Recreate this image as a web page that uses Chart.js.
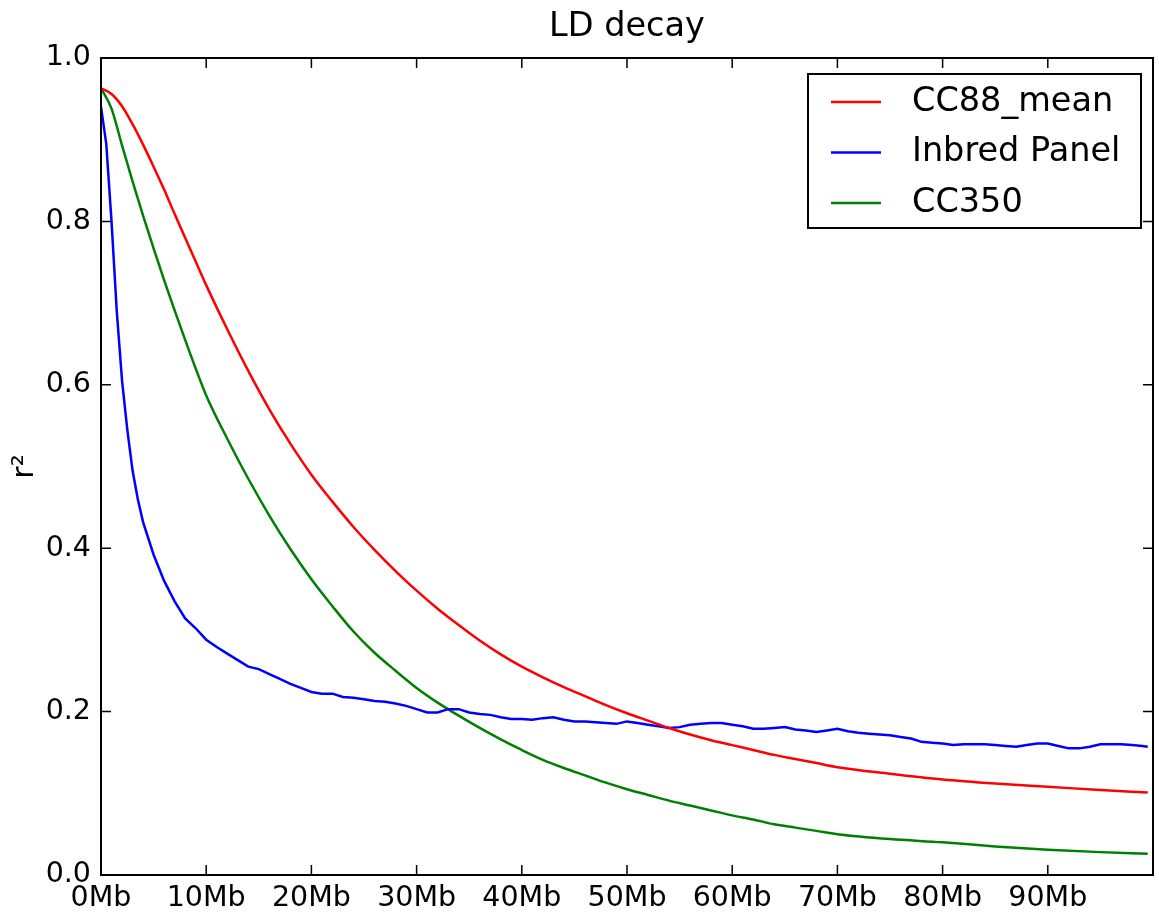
<!DOCTYPE html>
<html>
<head>
<meta charset="utf-8">
<script src="https://cdn.jsdelivr.net/npm/chart.js@4.4.1/dist/chart.umd.min.js"></script>
<style>
  html, body { margin: 0; padding: 0; background: #fff; }
  #wrap { width: 1159px; height: 919px; position: relative; }
</style>
</head>
<body>
<div id="wrap"><canvas id="ldChart"></canvas></div>
<script>
// LD decay data

const smoothX = [0, 1, 2, 3, 4, 5, 6, 7, 8, 9, 10, 12, 14, 16, 18, 20, 22, 24, 26, 28, 30, 32, 34, 36, 38, 40,
  42, 44, 46, 48, 50, 52, 54, 56, 58, 60, 62, 64, 66, 68, 70, 75, 80, 85, 90, 95, 99.5];

const cc88Mean = [0.963, 0.956, 0.941, 0.919, 0.894, 0.867, 0.839, 0.809, 0.780, 0.751, 0.722, 0.668, 0.617,
  0.570, 0.528, 0.490, 0.457, 0.426, 0.398, 0.372, 0.348, 0.326, 0.306, 0.287, 0.270, 0.255, 0.242, 0.230,
  0.219, 0.208, 0.198, 0.189, 0.180, 0.172, 0.165, 0.159, 0.153, 0.147, 0.142, 0.137, 0.132, 0.124, 0.117,
  0.112, 0.108, 0.104, 0.101];

const cc350 = [0.963, 0.938, 0.893, 0.849, 0.807, 0.767, 0.728, 0.691, 0.655, 0.620, 0.587, 0.534, 0.485,
  0.440, 0.399, 0.362, 0.329, 0.298, 0.272, 0.250, 0.229, 0.211, 0.195, 0.180, 0.166, 0.153, 0.141, 0.131,
  0.122, 0.113, 0.105, 0.098, 0.091, 0.085, 0.079, 0.073, 0.068, 0.062, 0.058, 0.054, 0.050, 0.044, 0.040,
  0.035, 0.031, 0.028, 0.026];

const inbredX = [0, 0.5, 1, 1.5, 2, 2.5, 3, 3.5, 4, 5, 6, 7, 8, 9, 10, 11, 12, 13, 14, 15, 16, 17, 18, 19, 20,
  21, 22, 23, 24, 25, 26, 27, 28, 29, 30, 31, 32, 33, 34, 35, 36, 37, 38, 39, 40, 41, 42, 43, 44, 45, 46, 47,
  48, 49, 50, 51, 52, 53, 54, 55, 56, 57, 58, 59, 60, 61, 62, 63, 64, 65, 66, 67, 68, 69, 70, 71, 72, 73, 74,
  75, 76, 77, 78, 79, 80, 81, 82, 83, 84, 85, 86, 87, 88, 89, 90, 91, 92, 93, 94, 95, 96, 97, 98, 99, 99.5];

const inbredPanel = [0.940, 0.895, 0.800, 0.690, 0.605, 0.545, 0.495, 0.460, 0.432, 0.392, 0.360, 0.335,
  0.314, 0.302, 0.288, 0.279, 0.271, 0.263, 0.255, 0.252, 0.246, 0.240, 0.234, 0.229, 0.224, 0.222, 0.222,
  0.218, 0.217, 0.215, 0.213, 0.212, 0.210, 0.207, 0.203, 0.199, 0.199, 0.203, 0.203, 0.199, 0.197, 0.196,
  0.193, 0.191, 0.191, 0.190, 0.192, 0.193, 0.190, 0.188, 0.188, 0.187, 0.186, 0.185, 0.188, 0.186, 0.184,
  0.182, 0.180, 0.181, 0.184, 0.185, 0.186, 0.186, 0.184, 0.182, 0.179, 0.179, 0.180, 0.181, 0.178, 0.177,
  0.175, 0.177, 0.179, 0.176, 0.174, 0.173, 0.172, 0.171, 0.169, 0.167, 0.163, 0.162, 0.161, 0.159, 0.160,
  0.160, 0.160, 0.159, 0.158, 0.157, 0.159, 0.161, 0.161, 0.158, 0.155, 0.155, 0.157, 0.160, 0.160, 0.160,
  0.159, 0.158, 0.157];

const xTicks = [0, 10, 20, 30, 40, 50, 60, 70, 80, 90, 100];
const yTicks = [0, 0.2, 0.4, 0.6, 0.8, 1.0];

const FONT = "'DejaVu Sans', 'Liberation Sans', sans-serif";

function toPoints(xs, ys) {
  return xs.map((x, i) => ({ x: x, y: ys[i] }));
}

// matplotlib-style frame, inward ticks on all four sides, boxed legend
const frameAndLegend = {
  id: 'frameAndLegend',
  afterDraw(chart) {
    const ctx = chart.ctx;
    const area = chart.chartArea;
    const xs = chart.scales.x;
    const ys = chart.scales.y;
    const len = 10;

    ctx.save();
    ctx.strokeStyle = '#000';
    ctx.lineWidth = 1.5;
    ctx.beginPath();
    xTicks.forEach(v => {
      const px = xs.getPixelForValue(v);
      ctx.moveTo(px, area.bottom); ctx.lineTo(px, area.bottom - len);
      ctx.moveTo(px, area.top); ctx.lineTo(px, area.top + len);
    });
    yTicks.forEach(v => {
      const py = ys.getPixelForValue(v);
      ctx.moveTo(area.left, py); ctx.lineTo(area.left + len, py);
      ctx.moveTo(area.right, py); ctx.lineTo(area.right - len, py);
    });
    ctx.stroke();

    ctx.lineWidth = 2;
    ctx.strokeRect(area.left, area.top, area.right - area.left, area.bottom - area.top);

    // legend box
    const bx = 808, by = 74, bw = 333, bh = 154;
    ctx.fillStyle = '#fff';
    ctx.fillRect(bx, by, bw, bh);
    ctx.strokeRect(bx, by, bw, bh);
    ctx.font = '33.5px ' + FONT;
    ctx.textBaseline = 'middle';
    chart.data.datasets.forEach((ds, i) => {
      const cy = 102 + i * 50.5;
      ctx.strokeStyle = ds.borderColor;
      ctx.lineWidth = 2.5;
      ctx.beginPath();
      ctx.moveTo(831, cy);
      ctx.lineTo(881, cy);
      ctx.stroke();
      ctx.fillStyle = '#000';
      ctx.fillText(ds.label, 912, cy);
    });
    ctx.restore();
  }
};

const lineStyle = {
  borderWidth: 2.5,
  pointRadius: 0,
  fill: false,
  showLine: true
};

new Chart(document.getElementById('ldChart'), {
  type: 'scatter',
  data: {
    datasets: [
      { label: 'CC88_mean', data: toPoints(smoothX, cc88Mean), borderColor: '#ff0000',
        cubicInterpolationMode: 'monotone', ...lineStyle },
      { label: 'Inbred Panel', data: toPoints(inbredX, inbredPanel), borderColor: '#0000ff',
        tension: 0, ...lineStyle },
      { label: 'CC350', data: toPoints(smoothX, cc350), borderColor: '#008000',
        cubicInterpolationMode: 'monotone', ...lineStyle }
    ]
  },
  options: {
    responsive: true,
    maintainAspectRatio: false,
    animation: false,
    layout: { padding: { left: 0, right: 4, top: 0, bottom: 0 } },
    plugins: {
      legend: { display: false },
      tooltip: { enabled: false },
      title: {
        display: true,
        fullSize: false,
        text: 'LD decay',
        color: '#000',
        font: { family: FONT, size: 33.5, weight: 'normal' },
        padding: { top: 7, bottom: 10.8 }
      }
    },
    scales: {
      x: {
        type: 'linear',
        min: 0,
        max: 100,
        afterFit(scale) { scale.height = 44; },
        afterBuildTicks(scale) { scale.ticks = xTicks.map(v => ({ value: v })); },
        grid: { display: false, drawTicks: false },
        border: { display: false },
        ticks: {
          color: '#000',
          padding: 6,
          maxRotation: 0,
          font: { family: FONT, size: 28.5 },
          callback: v => (v < 100 ? v + 'Mb' : '')
        }
      },
      y: {
        type: 'linear',
        min: 0,
        max: 1,
        afterFit(scale) { scale.width = 101; },
        afterBuildTicks(scale) { scale.ticks = yTicks.map(v => ({ value: v })); },
        grid: { display: false, drawTicks: false },
        border: { display: false },
        title: {
          display: true,
          text: 'r²',
          color: '#000',
          font: { family: FONT, size: 30 },
          padding: { top: 7, bottom: 0 }
        },
        ticks: {
          color: '#000',
          padding: 10,
          font: { family: FONT, size: 28.5 },
          callback: v => v.toFixed(1)
        }
      }
    }
  },
  plugins: [frameAndLegend]
});
</script>
</body>
</html>
